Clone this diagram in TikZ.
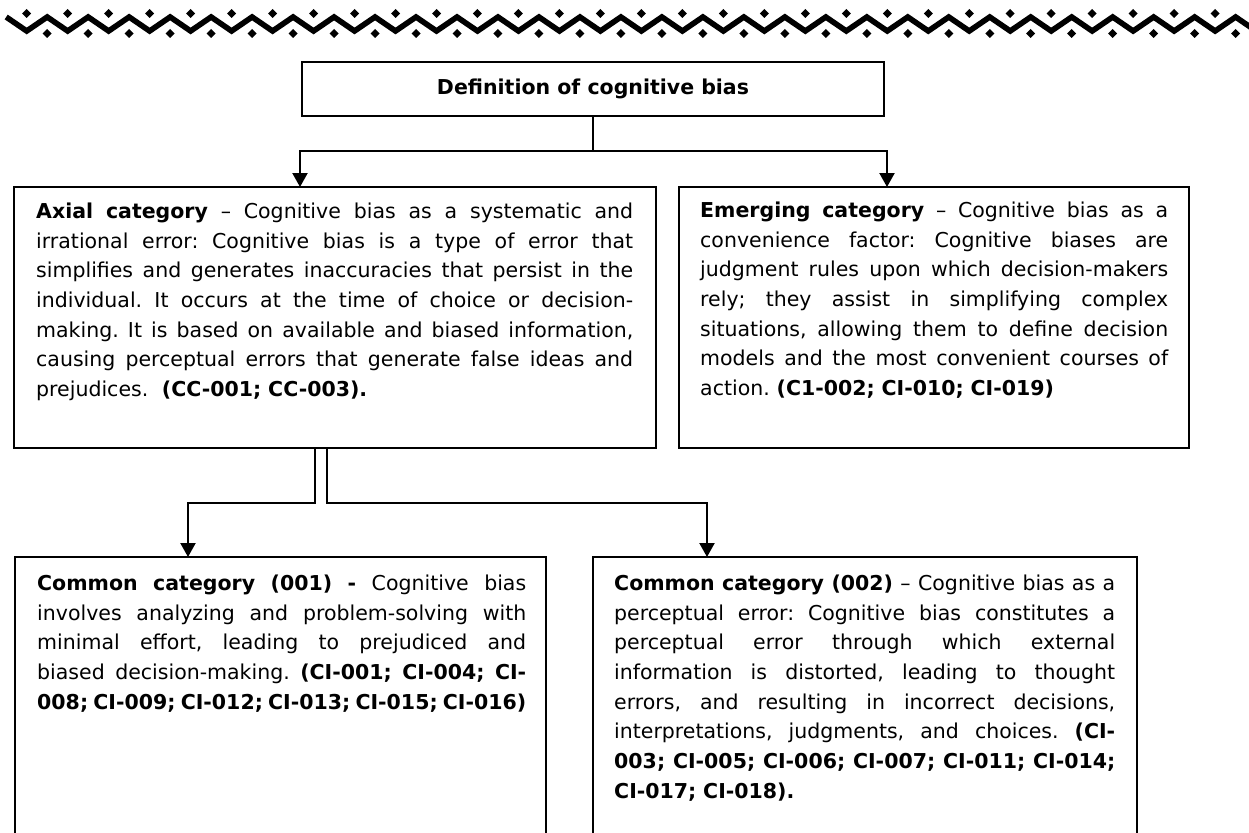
\documentclass[tikz,border=0pt]{standalone}
\usepackage{fontspec}
\setmainfont{DejaVu Sans}
\usetikzlibrary{arrows.meta}
\newcommand\wsp{\spaceskip=0.318em plus 1fil minus 0.12em\relax\xspaceskip=\spaceskip}
\newcommand\jl[1]{\makebox[\hsize][s]{\wsp\strut#1}\\}
\newcommand\jlast[1]{\makebox[\hsize][s]{\wsp\strut#1}}
\begin{document}
\begin{tikzpicture}[x=1pt,y=-1pt,
  box/.style={draw, line width=2.5pt, rectangle, inner sep=0pt, outer sep=0pt, anchor=north west},
  txt/.style={inner sep=0pt, anchor=north west, font=\fontsize{20.5}{29.7}\selectfont\frenchspacing},
  conn/.style={line width=2.2pt, line join=miter},
  arr/.style={conn, -{Triangle[width=15pt,length=14pt]}},
  zig/.style={line width=5.6pt, line join=miter}
]
\useasboundingbox (0,0) rectangle (1249,832);
\clip (0,0) rectangle (1249,832);

% decorative zigzag border
\draw[zig] (6.2,17) \foreach \k in {0,...,30} { -- ({26.7+40.98*\k},31) -- ({47.2+40.98*\k},17) };
\foreach \k in {0,...,29} {
  \fill ({26.7+40.98*\k},9) -- ++(4.5,4.5) -- ++(-4.5,4.5) -- ++(-4.5,-4.5) -- cycle;
  \fill ({47.2+40.98*\k},29) -- ++(4.5,4.5) -- ++(-4.5,4.5) -- ++(-4.5,-4.5) -- cycle;
}

% boxes
\node[box, anchor=center, minimum width=582pt, minimum height=54pt,
      font=\fontsize{20.5}{24}\selectfont\bfseries] (top) at (593,89) {Definition of cognitive bias};
\node[box, minimum width=642pt, minimum height=261pt] (axial) at (14,187) {};
\node[box, minimum width=510pt, minimum height=261pt] (emerging) at (679,187) {};
\node[box, minimum width=531pt, minimum height=320pt] (common1) at (15,557) {};
\node[box, minimum width=544pt, minimum height=320pt] (common2) at (593,557) {};

% texts
\node[txt, text width=597pt] (axialtext) at (36,197.5) {%
\jl{\textbf{Axial category} – Cognitive bias as a systematic and}
\jl{irrational error: Cognitive bias is a type of error that}
\jl{simplifies and generates inaccuracies that persist in the}
\jl{individual. It occurs at the time of choice or decision-}
\jl{making. It is based on available and biased information,}
\jl{causing perceptual errors that generate false ideas and}
\strut prejudices.\ \ \textbf{(CC-001; CC-003).}};

\node[txt, text width=468pt] (emergingtext) at (700,196.5) {%
\jl{\textbf{Emerging category} – Cognitive bias as a}
\jl{convenience factor: Cognitive biases are}
\jl{judgment rules upon which decision-makers}
\jl{rely; they assist in simplifying complex}
\jl{situations, allowing them to define decision}
\jl{models and the most convenient courses of}
\strut action. \textbf{(C1-002; CI-010; CI-019)}};

\node[txt, text width=489pt] (common1text) at (37,569.5) {%
\jl{\textbf{Common category (001) -} Cognitive bias}
\jl{involves analyzing and problem-solving with}
\jl{minimal effort, leading to prejudiced and}
\jl{biased decision-making. \textbf{(CI-001; CI-004; CI-}}
\jlast{\textbf{008; CI-009; CI-012; CI-013; CI-015; CI-016)}}};

\node[txt, text width=501pt] (common2text) at (614,569.5) {%
\jl{\textbf{Common category (002)} – Cognitive bias as a}
\jl{perceptual error: Cognitive bias constitutes a}
\jl{perceptual error through which external}
\jl{information is distorted, leading to thought}
\jl{errors, and resulting in incorrect decisions,}
\jl{interpretations, judgments, and choices. \textbf{(CI-}}
\jl{\textbf{003; CI-005; CI-006; CI-007; CI-011; CI-014;}}
\strut\textbf{CI-017; CI-018).}};

% connectors
\coordinate (j1) at (300,151);
\coordinate (j2) at (887,151);
\draw[arr] (top.south) |- (j1) -- (j1 |- axial.north);
\draw[arr] (top.south) |- (j2) -- (j2 |- emerging.north);

\coordinate (d1) at (315,503);
\coordinate (d2) at (327,503);
\coordinate (e1) at (188,503);
\coordinate (e2) at (707,503);
\draw[arr] (d1 |- axial.south) -- (d1) -- (e1) -- (e1 |- common1.north);
\draw[arr] (d2 |- axial.south) -- (d2) -- (e2) -- (e2 |- common2.north);
\end{tikzpicture}
\end{document}
